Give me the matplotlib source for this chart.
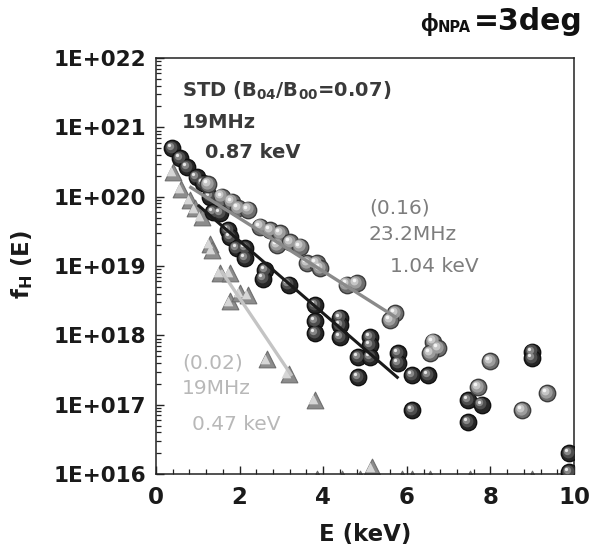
import matplotlib
matplotlib.use("Agg")
import matplotlib.pyplot as plt
from matplotlib.ticker import MultipleLocator, LogLocator, FixedLocator, NullFormatter
from matplotlib.transforms import offset_copy

plt.rcParams['font.family'] = ['DejaVu Sans']
plt.rcParams['mathtext.fontset'] = 'dejavusans'

# ---------------- data ----------------
# STD (B04/B00=0.07), 19 MHz  -> dark spheres
dark_E = [0.38, 0.57, 0.75, 0.97, 1.13, 1.29, 1.37, 1.53, 1.73, 1.77, 1.93, 2.13, 2.13,
          2.61, 2.57, 3.17, 3.80, 3.80, 3.80, 4.40, 4.40, 4.40, 5.12, 5.12, 4.84, 5.12,
          4.84, 5.80, 5.80, 6.12, 6.51, 6.12, 7.47, 7.79, 7.47, 8.99, 8.99, 9.89, 9.88]
dark_f = [5.0e20, 3.6e20, 2.7e20, 1.9e20, 1.55e20, 1.0e20, 6.0e19, 5.8e19, 3.3e19, 2.6e19,
          1.8e19, 1.8e19, 1.3e19, 8.7e18, 6.6e18, 5.4e18, 2.75e18, 1.6e18, 1.07e18, 1.8e18,
          1.4e18, 9.5e17, 9.5e17, 7.2e17, 4.9e17, 4.9e17, 2.5e17, 5.5e17, 4.0e17, 2.7e17,
          2.7e17, 8.3e16, 1.17e17, 1.0e17, 5.6e16, 5.8e17, 4.7e17, 2.0e16, 1.07e16]

# (0.16), 23.2 MHz -> light spheres
light_E = [1.25, 1.57, 1.81, 1.97, 2.21, 2.49, 2.73, 2.89, 2.97, 3.21, 3.44, 3.61, 3.84,
           3.92, 4.56, 4.80, 5.72, 5.60, 6.63, 6.75, 6.56, 7.99, 7.71, 9.35, 8.75]
light_f = [1.5e20, 1.0e20, 8.5e19, 6.8e19, 6.5e19, 3.7e19, 3.3e19, 2.0e19, 2.95e19, 2.2e19,
           1.9e19, 1.1e19, 1.1e19, 9.3e18, 5.4e18, 5.6e18, 2.1e18, 1.65e18, 8.1e17, 6.5e17,
           5.5e17, 4.2e17, 1.8e17, 1.45e17, 8.3e16]

# (0.02), 19 MHz -> triangles
tri_E = [0.41, 0.61, 0.81, 0.93, 1.09, 1.29, 1.33, 1.53, 1.77, 1.77, 2.01, 2.21, 2.65,
         3.17, 3.80, 5.17]
tri_f = [2.3e20, 1.3e20, 8.9e19, 6.8e19, 5.1e19, 2.1e19, 1.7e19, 7.9e18, 7.9e18, 3.1e18,
         4.1e18, 3.8e18, 4.5e17, 2.8e17, 1.17e17, 1.25e16]
# triangles sitting at the lower limit of the axis
tri_floor_E = [3.86, 4.46, 4.89, 5.89, 6.13, 6.56, 7.52, 9.0]
tri_floor_f = 8.6e15

# fitted lines (end points)
fit_dark_E = [1.0, 5.8]
fit_dark_f = [7.6e19, 2.4e17]
fit_light_E = [0.8, 5.75]
fit_light_f = [1.4e20, 1.8e18]
fit_tri_E = [1.55, 3.25]
fit_tri_f = [8.7e18, 2.6e17]

x_ticks = [0, 2, 4, 6, 8, 10]
y_ticks = [1e16, 1e17, 1e18, 1e19, 1e20, 1e21, 1e22]
y_ticklabels = ['1E+016', '1E+017', '1E+018', '1E+019', '1E+020', '1E+021', '1E+022']

# ---------------- figure ----------------
W, H = 590, 546
fig = plt.figure(figsize=(W / 100, H / 100), dpi=100)
ax = fig.add_axes([156 / W, (H - 474) / H, (574 - 156) / W, (474 - 58) / H])
ax.set_yscale('log')
ax.set_xlim(0, 10)
ax.set_ylim(1e16, 1e22)


def spheres(x, y, edge, face, layers, size, z):
    ax.scatter(x, y, s=size ** 2, c=face, edgecolors=edge, linewidths=1.0, zorder=z)
    for frac, col, off in layers:
        tr = offset_copy(ax.transData, fig=fig, x=-off, y=off, units='points')
        ax.scatter(x, y, s=(size * frac) ** 2, c=col, linewidths=0, transform=tr, zorder=z)


# triangles
tri_all_E = tri_E + tri_floor_E
tri_all_f = tri_f + [tri_floor_f] * len(tri_floor_E)
ax.scatter(tri_all_E, tri_all_f, marker='^', s=12 ** 2, c='#8c8c8c', edgecolors='#6e6e6e',
           linewidths=0.8, zorder=2)
trt = offset_copy(ax.transData, fig=fig, x=-1.5, y=0.5, units='points')
ax.scatter(tri_all_E, tri_all_f, marker='^', s=7 ** 2, c='#d6d6d6', linewidths=0,
           transform=trt, zorder=2)

# dark spheres
spheres(dark_E, dark_f, '#101010', '#262626',
        [(0.72, '#4d4d4d', 0.9), (0.45, '#878787', 1.6), (0.2, '#e8e8e8', 2.2)], 11.8, 3)
# light spheres
spheres(light_E, light_f, '#3c3c3c', '#6e6e6e',
        [(0.75, '#9c9c9c', 0.9), (0.48, '#c6c6c6', 1.6), (0.22, '#f4f4f4', 2.2)], 11.8, 4)

# fit lines
ax.plot(fit_dark_E, fit_dark_f, color='#1a1a1a', lw=2.2, zorder=5, solid_capstyle='butt')
ax.plot(fit_light_E, fit_light_f, color='#8a8a8a', lw=2.4, zorder=5, solid_capstyle='butt')
ax.plot(fit_tri_E, fit_tri_f, color='#c4c4c4', lw=2.4, zorder=5, solid_capstyle='butt')

# axes styling
for s in ax.spines.values():
    s.set_linewidth(1.1)
    s.set_color('#222222')
ax.xaxis.set_major_locator(FixedLocator(x_ticks))
ax.xaxis.set_minor_locator(MultipleLocator(0.4))
ax.yaxis.set_major_locator(FixedLocator(y_ticks))
ax.yaxis.set_minor_locator(LogLocator(base=10, subs=range(2, 10), numticks=20))
ax.yaxis.set_minor_formatter(NullFormatter())
ax.set_yticklabels(y_ticklabels)
ax.set_xticklabels([str(v) for v in x_ticks])
ax.tick_params(axis='both', which='both', direction='in', top=False, right=False,
               color='#222222')
ax.tick_params(axis='both', which='major', length=6, width=1.0)
ax.tick_params(axis='both', which='minor', length=3.5, width=0.9)
ax.tick_params(axis='y', which='major', pad=7, labelsize=15.5)
ax.tick_params(axis='x', which='major', pad=9, labelsize=16.5)
for lab in ax.get_xticklabels() + ax.get_yticklabels():
    lab.set_fontweight('bold')
    lab.set_color('#1a1a1a')

ax.set_xlabel('E (keV)', fontsize=16.5, fontweight='bold', color='#1a1a1a')
ax.xaxis.set_label_coords(0.5, (474 - 534) / 416)
ax.xaxis.label.set_va('center')
ax.set_ylabel(r'f$_\mathbf{H}$ (E)', fontsize=16.5, fontweight='bold', color='#1a1a1a')
ax.yaxis.set_label_coords((22 - 156) / 418, (474 - 265) / 416)
ax.yaxis.label.set_va('center')


def ftext(px, py, s, **kw):
    fig.text(px / W, 1 - py / H, s, **kw)


# title
ftext(429, 25, '\u03d5', fontsize=17, fontweight='bold', va='center', ha='center',
      color='#111111', family=['Liberation Sans', 'DejaVu Sans'])
ftext(437.5, 28, 'NPA', fontsize=10.5, fontweight='bold', va='center', ha='left', color='#111111')
ftext(474, 22, '=3deg', fontsize=21.5, fontweight='bold', va='center', ha='left', color='#111111')

# annotations
dk = '#3a3a3a'
ftext(182, 91, r'STD (B$_\mathbf{04}$/B$_\mathbf{00}$=0.07)', fontsize=14, fontweight='bold',
      color=dk, va='center', ha='left')
ftext(182, 122, '19MHz', fontsize=14, fontweight='bold', color=dk, va='center', ha='left')
ftext(205, 153, '0.87 keV', fontsize=14, fontweight='bold', color=dk, va='center', ha='left')

md = '#7d7d7d'
ftext(369, 208, '(0.16)', fontsize=14.5, color=md, va='center', ha='left')
ftext(368, 234, '23.2MHz', fontsize=14.5, color=md, va='center', ha='left')
ftext(390, 267, '1.04 keV', fontsize=14.5, color=md, va='center', ha='left')

lt = '#b8b8b8'
ftext(182, 363, '(0.02)', fontsize=14.5, color=lt, va='center', ha='left')
ftext(182, 389, '19MHz', fontsize=14.5, color=lt, va='center', ha='left')
ftext(192, 425, '0.47 keV', fontsize=14.5, color=lt, va='center', ha='left')

fig.savefig('out.png', dpi=100)
